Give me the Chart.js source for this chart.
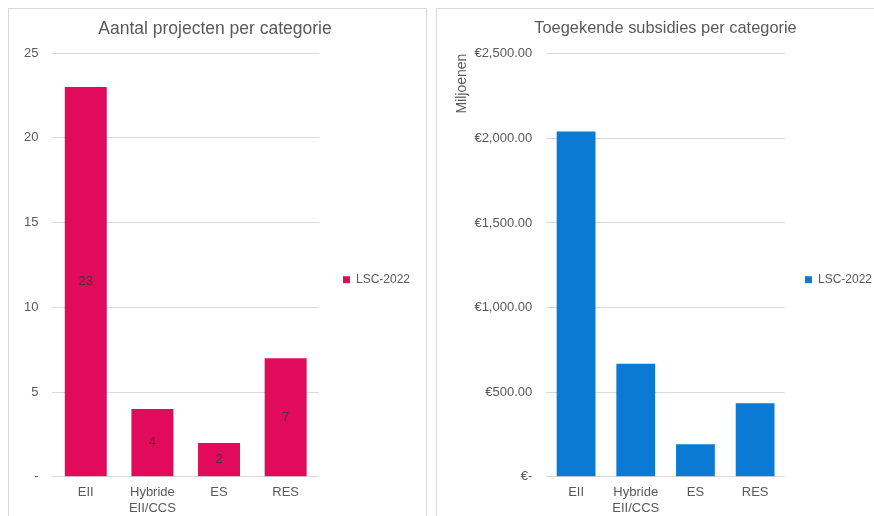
<!DOCTYPE html>
<html>
<head>
<meta charset="utf-8">
<script src="https://cdn.jsdelivr.net/npm/chart.js@4"></script>
<style>
  body { margin: 0; background: #fff; width: 874px; height: 516px; overflow: hidden; position: relative; }
  .paneel { position: absolute; top: 8px; height: 530px; border: 1px solid #d9d9d9; box-sizing: border-box; }
  .paneel .vak { position: absolute; left: 0; top: 0; height: 507px; }
</style>
</head>
<body>
<div class="paneel" style="left:8px;width:419px;"><div class="vak" style="width:417px;"><canvas id="grafiekProjecten"></canvas></div></div>
<div class="paneel" style="left:436px;width:460px;"><div class="vak" style="width:450px;"><canvas id="grafiekSubsidies"></canvas></div></div>
<script>
// categorieen en waarden
const categorieen = ['EII', ['Hybride', 'EII/CCS'], 'ES', 'RES'];
const reeksNaam = 'LSC-2022';
const aantalProjecten = [23, 4, 2, 7];
const subsidiesMiljoen = [2040, 668, 193, 435];
const projectenTicks = [0, 5, 10, 15, 20, 25];
const subsidieTicks = [0, 500, 1000, 1500, 2000, 2500];

const grijs = '#595959';
Chart.defaults.font.family = '"Liberation Sans", Arial, sans-serif';
Chart.defaults.color = grijs;

// waarde midden in de staaf tekenen
const staafWaarden = {
  id: 'staafWaarden',
  afterDatasetsDraw(chart, args, opts) {
    if (!opts.display) return;
    const ctx = chart.ctx;
    ctx.save();
    ctx.font = '13px "Liberation Sans", Arial, sans-serif';
    ctx.fillStyle = '#4a3040';
    ctx.textAlign = 'center';
    ctx.textBaseline = 'middle';
    chart.getDatasetMeta(0).data.forEach((bar, i) => {
      ctx.fillText(chart.data.datasets[0].data[i], bar.x, (bar.y + bar.base) / 2);
    });
    ctx.restore();
  }
};

function maakOpties(titel, titelGrootte, yMax, tickFormaat, yTitel, extra) {
  return {
    responsive: true,
    maintainAspectRatio: false,
    animation: false,
    layout: { padding: extra.padding },
    plugins: {
      title: { display: true, text: titel, color: grijs, font: { size: titelGrootte, weight: 'normal' }, padding: { top: 10, bottom: extra.titelOnder } },
      legend: {
        position: 'right',
        // lege legendatitel schuift het item iets omlaag
        title: { display: true, text: ' ', font: { size: 12 }, padding: { top: 10, bottom: 10 } },
        labels: { usePointStyle: true, pointStyle: 'rect', boxWidth: 7, boxHeight: 7, color: grijs, font: { size: 12 }, padding: extra.legendaRuimte }
      },
      tooltip: { enabled: false },
      staafWaarden: { display: extra.waarden }
    },
    scales: {
      x: {
        grid: { display: false },
        border: { color: '#d9d9d9' },
        ticks: { color: grijs, font: { size: 13 }, maxRotation: 0, padding: 0 }
      },
      y: {
        min: 0, max: yMax,
        afterBuildTicks: extra.ticks,
        grid: { color: '#d9d9d9', drawTicks: false },
        border: { display: false },
        title: yTitel,
        ticks: { color: grijs, font: { size: 13 }, padding: 14, callback: tickFormaat }
      }
    }
  };
}

new Chart(document.getElementById('grafiekProjecten'), {
  type: 'bar',
  data: {
    labels: categorieen,
    datasets: [{ label: reeksNaam, data: aantalProjecten, backgroundColor: '#E20A5A', barPercentage: 0.63, categoryPercentage: 1 }]
  },
  options: maakOpties('Aantal projecten per categorie', 17.5, 25,
    v => v === 0 ? '-' : v,
    { display: false },
    { padding: { left: 1, right: 6 }, titelOnder: 13, legendaRuimte: 24, waarden: true, ticks: s => { s.ticks = projectenTicks.map(v => ({ value: v })); } }),
  plugins: [staafWaarden]
});

new Chart(document.getElementById('grafiekSubsidies'), {
  type: 'bar',
  data: {
    labels: categorieen,
    datasets: [{ label: reeksNaam, data: subsidiesMiljoen, backgroundColor: '#0A7AD4', barPercentage: 0.65, categoryPercentage: 1 }]
  },
  options: maakOpties('Toegekende subsidies per categorie', 16.4, 2500,
    v => v === 0 ? '€-' : '€' + v.toLocaleString('en-US', { minimumFractionDigits: 2, maximumFractionDigits: 2 }),
    { display: true, text: 'Miljoenen', align: 'end', color: grijs, font: { size: 14 }, padding: { top: 4.6, bottom: -10 } },
    { padding: { left: 12, right: 5 }, titelOnder: 15, legendaRuimte: 20, waarden: false, ticks: s => { s.ticks = subsidieTicks.map(v => ({ value: v })); } }),
  plugins: [staafWaarden]
});
</script>
</body>
</html>
